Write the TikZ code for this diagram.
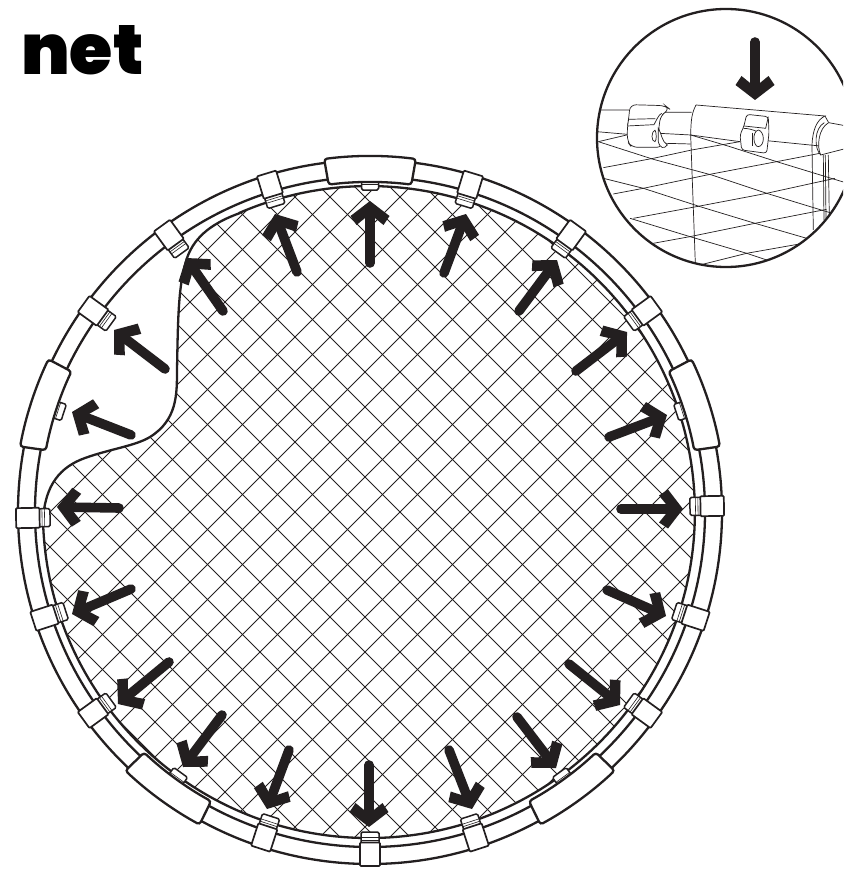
\documentclass[tikz,border=0pt]{standalone}
\usepackage{fontspec}
\newfontfamily\netfont{Poppins}[UprightFont=* Black]
\definecolor{ink}{HTML}{231F20}
\tikzset{
  ringline/.style={draw=ink,line width=2.3pt},
  hatchline/.style={draw=ink,line width=0.9pt},
  insetline/.style={draw=ink,line width=0.7pt},
  inkfill/.style={fill=ink,draw=none},
}
\usetikzlibrary{calc}
% arrow: tail x,y ; tip x,y (reference pixels)
\newcommand{\arrowk}[4]{%
  \pgfmathsetmacro{\arang}{atan2(-(#4-#2),#3-#1)}%
  \draw[ink,line width=9.6pt,line cap=round] (#1,#2) -- ($(#3,#4)!12pt!(#1,#2)$);%
  \begin{scope}[shift={(#3,#4)},rotate=\arang]
    \fill[inkfill] (0,0) -- (-15,19.5) -- (-24,13.5) -- (-13,0) -- (-24,-13.5) -- (-15,-19.5) -- cycle;
  \end{scope}}
% small clip across the tube
\newcommand{\clipk}[1]{%
  \begin{scope}[shift={(370,512)},rotate=#1]
    \draw[ringline,line width=1.5pt,fill=white,rounded corners=1.5pt] (320,-9) rectangle (333,9);
    \draw[ink,line width=0.6pt] (325.5,-9) -- (325.5,9) (328,-9) -- (328,9);
    \draw[ringline,line width=1.7pt,fill=white,rounded corners=1pt] (330.5,-10) rectangle (354,10);
  \end{scope}}
% long pad with a small tab
\newcommand{\padk}[1]{%
  \begin{scope}[shift={(370,512)},rotate=#1]
    \draw[ringline,line width=1.5pt,fill=white,rounded corners=1.5pt] (322,-8.5) rectangle (332,8.5);
    \draw[ink,line width=0.6pt] (328,-8.5) -- (328,8.5);
    \draw[ringline,fill=white,rounded corners=3pt] (-7.4:356pt) arc[start angle=-7.4,end angle=7.4,radius=356pt]
      -- (7.2:330pt) arc[start angle=7.2,end angle=-7.2,radius=330pt] -- cycle;
  \end{scope}}
\begin{document}
\begin{tikzpicture}[x=1pt,y=-1pt]
\clip (0,0) rectangle (843,869);
\fill[white] (0,0) rectangle (843,869);
\node[anchor=base west,inner sep=0pt,font=\netfont\fontsize{70}{70}\selectfont] (title) at (21,75) {net};

% ring tube
\coordinate (c) at (370,512);
\draw[ringline] (c) circle[radius=352pt];
\draw[ringline] (c) circle[radius=335pt];

% net with its folded-back corner
\begin{scope}
  \clip (240,213) .. controls (215,222) and (195,235) .. (187,258)
     .. controls (178,285) and (178,320) .. (177,370)
     .. controls (177,395) and (177,420) .. (150,437)
     .. controls (135,446) and (110,449) .. (85,458)
     .. controls (60,467) and (45,485) .. (43,520)
     arc[start angle=181.4,end angle=473.5,radius=326pt] -- cycle;
  \foreach \k in {-26,...,26} {
    \draw[hatchline] ({-7+35*\k},0) ++(-300,-300) -- ++(1500,1500);
  }
  \foreach \k in {0,...,50} {
    \draw[hatchline] ({2+35*\k},0) ++(300,-300) -- ++(-1500,1500);
  }
\end{scope}
\draw[ringline] (240,213) .. controls (215,222) and (195,235) .. (187,258)
     .. controls (178,285) and (178,320) .. (177,370)
     .. controls (177,395) and (177,420) .. (150,437)
     .. controls (135,446) and (110,449) .. (85,458)
     .. controls (60,467) and (45,485) .. (43,520)
     arc[start angle=181.4,end angle=473.5,radius=326pt];

% clips and pads
\foreach \a in {73,54,36,1,-18,-36,-72,-90,-108,-144,-162,181,144,126,107} {\clipk{\a}}
\foreach \a in {90,18,-54,-126,162} {\padk{\a}}

% arrows
\arrowk{370}{263}{370}{201}
\arrowk{297}{272}{275}{214}
\arrowk{444}{273}{466}{214}
\arrowk{519}{311}{557}{260}
\arrowk{576}{371}{627}{332}
\arrowk{609}{437}{667}{415}
\arrowk{621}{509}{683}{509}
\arrowk{607}{590}{666}{616}
\arrowk{569}{664}{620}{705}
\arrowk{517}{717}{556}{768}
\arrowk{449}{750}{472}{809}
\arrowk{369}{765}{369}{827}
\arrowk{289}{750}{267}{809}
\arrowk{222}{715}{183}{767}
\arrowk{169}{662}{118}{704}
\arrowk{131}{589}{72}{614}
\arrowk{119}{508}{57}{507}
\arrowk{131}{435}{72}{412}
\arrowk{165}{369}{114}{330}
\arrowk{223}{311}{186}{258}

% inset
\begin{scope}
  \clip (726,138) circle[radius=129pt];
  \fill[white] (726,138) circle[radius=129pt];
  \begin{scope}[shift={(590,0)},x=0.3333pt,y=-0.3333pt]
    % tube
    \draw[insetline] (20,330) -- (118,330) (20,395) -- (112,403);
    \draw[insetline] (215,337) -- (305,337) (225,430) -- (302,432) (208,400) -- (302,405);
    % pad
    \draw[insetline] (318,315) -- (705,348) .. controls (680,360) and (668,390) .. (666,435) -- (670,690);
    \draw[insetline] (318,315) .. controls (305,340) and (303,360) .. (302,405) -- (316,790);
    \draw[insetline] (705,348) -- (716,368);
    % net
    \draw[insetline] (25,425) -- (190,478) -- (365,525) -- (530,580) -- (700,632) -- (760,650);
    \draw[insetline] (40,535) -- (160,565) -- (330,620) -- (495,670) -- (650,715);
    \draw[insetline] (120,655) -- (300,710) -- (470,760) -- (530,780);
    \draw[insetline] (302,405) -- (420,440) -- (560,485) -- (740,540) -- (780,552);
    \draw[insetline] (25,425) -- (110,405);
    \draw[insetline] (40,503) -- (190,475) -- (305,450) -- (450,425);
    \draw[insetline] (70,582) -- (160,565) -- (365,522) -- (560,485) -- (690,460) -- (770,445);
    \draw[insetline] (130,655) -- (330,618) -- (530,580) -- (735,535);
    \draw[insetline] (190,730) -- (300,710) -- (495,670) -- (710,628);
    \draw[insetline] (330,795) -- (470,760) -- (640,730);
    \draw[insetline] (302,405) -- (450,425) (530,422) -- (690,438);
    % left clip
    \draw[insetline,fill=white,rounded corners=6pt] (120,314) -- (226,317) -- (240,328) -- (212,345) -- (205,395) -- (218,442) -- (125,442) -- (112,425) -- (112,378) -- (116,358) -- cycle;
    \draw[insetline] (116,358) -- (196,356) (112,378) -- (192,374);
    \draw[insetline] (215,340) .. controls (205,345) and (200,360) .. (192,374);
    \draw[insetline,fill=white] (205,385) .. controls (215,400) and (215,425) .. (232,435) .. controls (222,448) and (210,445) .. (205,425) -- cycle;
    \draw[insetline] (195,390) .. controls (183,395) and (183,425) .. (195,425) .. controls (200,420) and (200,400) .. (195,390);
    % right tube
    \draw[insetline,fill=white] (716,368) -- (770,378) -- (770,445) -- (692,465) .. controls (680,440) and (685,385) .. (716,368) -- cycle;
    \draw[insetline] (703,368) .. controls (672,385) and (672,445) .. (692,465);
    \draw[insetline] (700,465) -- (702,660) (706,465) -- (708,655) (715,465) -- (718,650);
    % centre clip
    \draw[insetline,fill=white,rounded corners=3pt] (470,343) -- (535,350) -- (537,400) -- (530,460) -- (455,450) -- (450,405) -- (462,378) -- cycle;
    \draw[insetline] (462,378) -- (527,385) -- (535,350);
    \draw[insetline] (505,390) .. controls (525,395) and (525,438) .. (505,440) .. controls (490,440) and (485,395) .. (505,390);
    \draw[insetline] (460,385) .. controls (475,385) and (490,390) .. (497,393);
    \draw[insetline] (488,398) -- (488,438);
  \end{scope}
  \arrowk{755}{42}{755}{100}
\end{scope}
\draw[ringline] (726,138) circle[radius=129pt];
\end{tikzpicture}
\end{document}
